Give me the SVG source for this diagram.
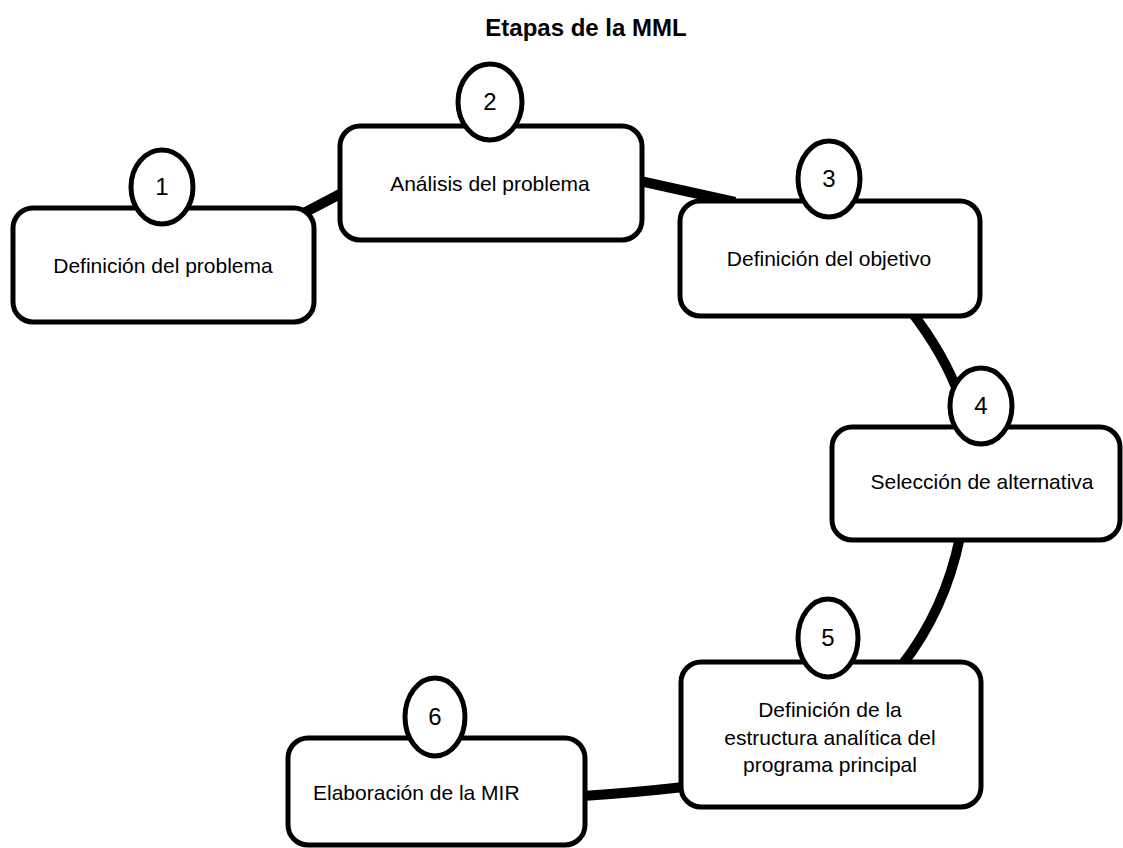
<svg xmlns="http://www.w3.org/2000/svg" width="1123" height="848" viewBox="0 0 1123 848">
<style>
.box{fill:#fff;stroke:#000;stroke-width:5}
.num{fill:#fff;stroke:#000;stroke-width:5}
.lbl{font-family:"Liberation Sans",Arial,sans-serif;font-size:21px;fill:#000;text-anchor:middle}
.n{font-family:"Liberation Sans",Arial,sans-serif;font-size:24px;fill:#000;text-anchor:middle}
.conn{fill:none;stroke:#000;stroke-width:10}
</style>
<rect width="1123" height="848" fill="#fff"/>
<text x="586" y="36" font-family="Liberation Sans,Arial,sans-serif" font-size="24" font-weight="bold" text-anchor="middle">Etapas de la MML</text>
<g id="connectors">
<path class="conn" d="M300 215 L342 193"/>
<path class="conn" d="M640 181 L735 202"/>
<path class="conn" d="M910 310 Q945 355 960 398"/>
<path class="conn" d="M960 537 Q945 610 902 665"/>
<path class="conn" d="M583 796 Q630 793 684 787"/>
</g>
<g id="node1">
<rect class="box" x="13" y="208" width="301" height="114" rx="20"/>
<ellipse class="num" cx="162" cy="187" rx="31" ry="37"/>
<text class="n" x="162" y="195">1</text>
<text class="lbl" x="163" y="273">Definición del problema</text>
</g>
<g id="node2">
<rect class="box" x="340" y="126" width="302" height="114" rx="20"/>
<ellipse class="num" cx="490" cy="102" rx="32" ry="38"/>
<text class="n" x="490" y="110">2</text>
<text class="lbl" x="490" y="191">Análisis del problema</text>
</g>
<g id="node3">
<rect class="box" x="680" y="201" width="300" height="115" rx="20"/>
<ellipse class="num" cx="829" cy="179" rx="31" ry="38"/>
<text class="n" x="829" y="187">3</text>
<text class="lbl" x="829" y="266">Definición del objetivo</text>
</g>
<g id="node4">
<rect class="box" x="832" y="427" width="288" height="113" rx="20"/>
<ellipse class="num" cx="981" cy="406" rx="31" ry="38"/>
<text class="n" x="981" y="414">4</text>
<text class="lbl" x="982" y="489">Selección de alternativa</text>
</g>
<g id="node5">
<rect class="box" x="681" y="662" width="300" height="145" rx="20"/>
<ellipse class="num" cx="828" cy="638" rx="30" ry="39"/>
<text class="n" x="828" y="646">5</text>
<text class="lbl" x="830" y="717">Definición de la</text>
<text class="lbl" x="830" y="745">estructura analítica del</text>
<text class="lbl" x="830" y="772">programa principal</text>
</g>
<g id="node6">
<rect class="box" x="288" y="738" width="297" height="107" rx="20"/>
<ellipse class="num" cx="435" cy="717" rx="30" ry="39"/>
<text class="n" x="435" y="725">6</text>
<text class="lbl" x="313" y="800" style="text-anchor:start">Elaboración de la MIR</text>
</g>
</svg>
